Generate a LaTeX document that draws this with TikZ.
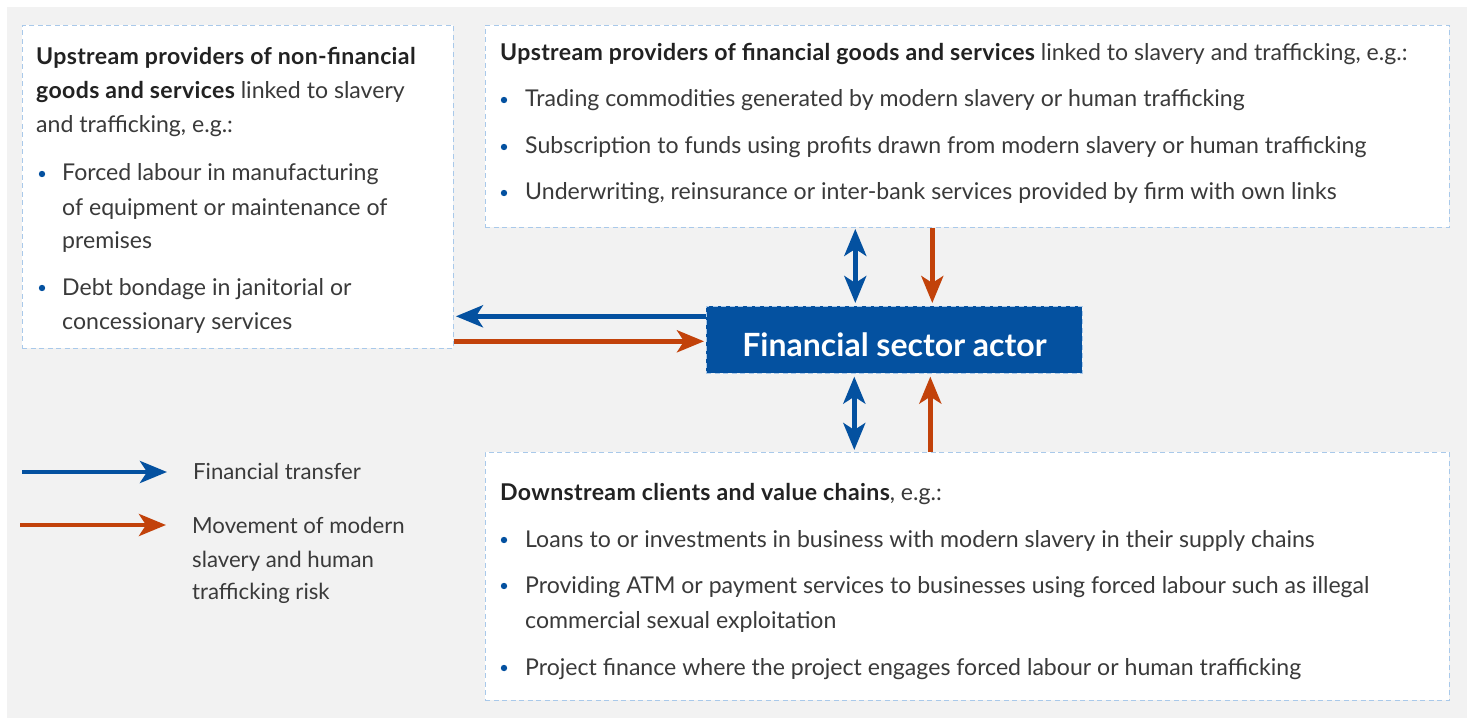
\documentclass[tikz,border=0pt]{standalone}
\usepackage{fontspec}
\setmainfont{Lato}
\usetikzlibrary{arrows.meta}
\definecolor{fblue}{HTML}{0451A0}
\definecolor{forange}{HTML}{C2420A}
\definecolor{bggray}{HTML}{F2F2F2}
\definecolor{dashblue}{HTML}{A9C9EA}
\definecolor{txtgray}{HTML}{3A3A3A}
\definecolor{headgray}{HTML}{222222}
\newcommand\txtline[4]{\node[txt] (#1) at (#2,#3) {#4};}
\newcommand\bul[2]{\fill[fblue] (#1,#2) circle (3.2pt);}
\newcommand\hb[1]{{\bfseries\addfontfeatures{LetterSpace=1.5}\color{headgray}#1}}
\begin{document}
\begin{tikzpicture}[x=1pt,y=-1pt,
  box/.style={draw=dashblue, dash pattern=on 5pt off 3.5pt, line width=0.9pt, fill=white, anchor=north west, inner sep=0pt},
  txt/.style={anchor=base west, inner sep=0pt, text=txtgray, font=\fontsize{23.1}{27}\selectfont},
  leg/.style={anchor=base west, inner sep=0pt, text=txtgray, font=\fontsize{22.2}{26}\selectfont},
  bluearr/.style={draw=fblue, line width=4.5pt, -{Stealth[length=27pt, width=22pt, inset=7pt]}},
  bluedbl/.style={draw=fblue, line width=4.5pt, {Stealth[length=27pt, width=22pt, inset=7pt]}-{Stealth[length=27pt, width=22pt, inset=7pt]}},
  orarr/.style={draw=forange, line width=4.5pt, -{Stealth[length=27pt, width=22pt, inset=7pt]}},
  actor/.style={fill=fblue, draw=dashblue, dash pattern=on 5pt off 3.5pt, line width=0.6pt, inner sep=0pt}
]
\useasboundingbox (0,0) rectangle (1475,722);
\fill[bggray] (7,7) rectangle (1467,718);

% boxes
\node[box, minimum width=431pt, minimum height=323pt] (lbox) at (22,25) {};
\node[box, minimum width=964pt, minimum height=202pt] (tbox) at (485,25) {};
\node[box, minimum width=964pt, minimum height=248pt] (bbox) at (485,452) {};
\node[actor, minimum width=376pt, minimum height=67pt, anchor=north west] (fsa) at (706,306) {};
\node[anchor=base, inner sep=0pt, text=white, font=\fontsize{32}{36}\selectfont\bfseries] (fsat) at (894.5,356) {Financial sector actor};

% left box text
\txtline{l1}{36}{65}{\hb{Upstream providers of non-financial}}
\txtline{l2}{36}{99}{\hb{goods and services} linked to slavery}
\txtline{l3}{36}{133}{and trafficking, e.g.:}
\bul{42}{174}
\txtline{l4}{62}{181}{Forced labour in manufacturing}
\txtline{l5}{62}{215}{of equipment or maintenance of}
\txtline{l6}{62}{248}{premises}
\bul{42}{288}
\txtline{l7}{62}{295}{Debt bondage in janitorial or}
\txtline{l8}{62}{329}{concessionary services}

% top box text
\txtline{t1}{500}{61}{\hb{Upstream providers of financial goods and services} linked to slavery and trafficking, e.g.:}
\bul{504}{100}
\txtline{t2}{525}{107}{Trading commodities generated by modern slavery or human trafficking}
\bul{504}{147}
\txtline{t3}{525}{154}{Subscription to funds using profits drawn from modern slavery or human trafficking}
\bul{504}{193}
\txtline{t4}{525}{200}{Underwriting, reinsurance or inter-bank services provided by firm with own links}

% bottom box text
\txtline{b1}{500}{500}{\hb{Downstream clients and value chains}, e.g.:}
\bul{504}{540}
\txtline{b2}{525}{547}{Loans to or investments in business with modern slavery in their supply chains}
\bul{504}{586}
\txtline{b3}{525}{593}{Providing ATM or payment services to businesses using forced labour such as illegal}
\txtline{b4}{525}{628}{commercial sexual exploitation}
\bul{504}{668}
\txtline{b5}{525}{675}{Project finance where the project engages forced labour or human trafficking}

% connectors
\coordinate (tb) at ([xshift=-39pt]fsa.north);
\coordinate (to) at ([xshift=38pt]fsa.north);
\coordinate (bb) at ([xshift=-40pt]fsa.south);
\coordinate (bo) at ([xshift=36pt]fsa.south);
\draw[bluedbl, shorten <=1pt, shorten >=3pt] (tb |- tbox.south) -- (tb);
\draw[orarr, shorten >=3pt] (to |- tbox.south) -- (to);
\draw[bluedbl, shorten <=2pt, shorten >=3pt] (bb |- bbox.north) -- (bb);
\draw[orarr, shorten >=3pt] (bo |- bbox.north) -- (bo);
\coordinate (lb) at ([yshift=23.5pt]fsa.west);
\coordinate (lo) at ([yshift=-1.5pt]fsa.west);
\draw[bluearr, shorten >=2pt] (lb) -- (lb -| lbox.east);
\draw[orarr, shorten >=2pt] (lo -| lbox.east) -- (lo);

% legend
\coordinate (lg1s) at (22,472);
\coordinate (lg1e) at (167,472);
\coordinate (lg2s) at (20,525);
\coordinate (lg2e) at (166,525);
\draw[bluearr] (lg1s) -- (lg1e);
\draw[orarr] (lg2s) -- (lg2e);
\node[leg] (lt1) at (193,479) {Financial transfer};
\node[leg] (lt2) at (192,533) {Movement of modern};
\node[leg] (lt3) at (192,567) {slavery and human};
\node[leg] (lt4) at (192,599) {trafficking risk};
\end{tikzpicture}
\end{document}
